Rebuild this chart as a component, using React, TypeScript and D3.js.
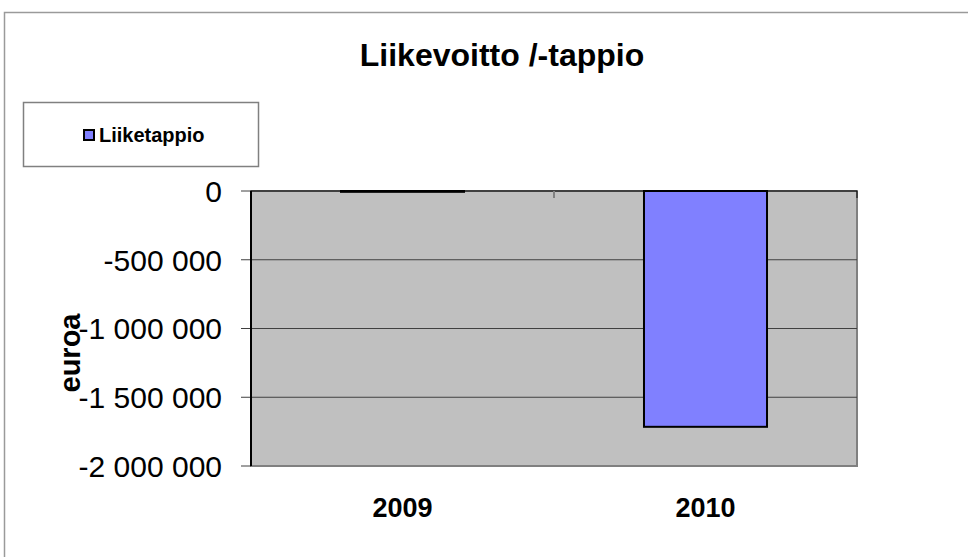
import React from "react";
import * as d3 from "d3";

const categories: string[] = ["2009", "2010"];
const liiketappio: number[] = [-6000, -1715000];
const yTicks: number[] = [0, -500000, -1000000, -1500000, -2000000];
const seriesName = "Liiketappio";
const title = "Liikevoitto /-tappio";
const yAxisTitle = "euroa";

const W = 968;
const H = 557;
const plot = { left: 251, right: 857, top: 191, bottom: 466 };
const FONT = "'Liberation Sans', Arial, Helvetica, sans-serif";

const fmt = (v: number) => {
  const s = d3.format(",")(v);
  return s.replace(/,/g, " ").replace("−", "-");
};

export default function App() {
  const x = d3
    .scaleBand<string>()
    .domain(categories)
    .range([plot.left, plot.right])
    .paddingInner(0.594)
    .paddingOuter(0.297);
  const xGroups = d3.scaleBand<string>().domain(categories).range([plot.left, plot.right]).padding(0);
  const y = d3.scaleLinear().domain([-2000000, 0]).range([plot.bottom, plot.top]);

  return (
    <svg
      width={W}
      height={H}
      style={{ position: "absolute", left: 0, top: 0, background: "#fff" }}
      fontFamily={FONT}
    >
      {/* outer chart border */}
      <rect x={4.5} y={12.5} width={1000} height={700} fill="#fff" stroke="#9a9a9a" strokeWidth={1.5} />

      {/* title */}
      <text x={502} y={66} textAnchor="middle" fontSize={32} fontWeight="bold" fill="#000">
        {title}
      </text>

      {/* legend */}
      <rect x={23.5} y={102.5} width={235} height={64} fill="#fff" stroke="#808080" strokeWidth={1.5} />
      <rect x={84} y={130} width={10} height={10} fill="#8080ff" stroke="#000" strokeWidth={2} />
      <text x={99} y={142} fontSize={20} fontWeight="bold" fill="#000">
        {seriesName}
      </text>

      {/* plot area */}
      <rect
        x={plot.left}
        y={plot.top}
        width={plot.right - plot.left}
        height={plot.bottom - plot.top}
        fill="#c0c0c0"
        stroke="#808080"
        strokeWidth={2}
      />

      {/* gridlines and y ticks */}
      {yTicks.map((t) => (
        <g key={t}>
          {t !== 0 && t !== -2000000 && (
            <line x1={plot.left} x2={plot.right} y1={y(t)} y2={y(t)} stroke="#404040" strokeWidth={1} />
          )}
          <line x1={plot.left - 10} x2={plot.left} y1={y(t)} y2={y(t)} stroke="#404040" strokeWidth={1} />
          <text
            x={222}
            y={y(t)}
            dy="0.36em"
            textAnchor="end"
            fontSize={30}
            fill="#000"
          >
            {fmt(t)}
          </text>
        </g>
      ))}

      {/* bars */}
      {categories.map((c, i) => {
        const v = liiketappio[i];
        const y0 = y(0);
        const y1 = y(v);
        return (
          <rect
            key={c}
            x={x(c)!}
            y={Math.min(y0, y1)}
            width={x.bandwidth()}
            height={Math.abs(y1 - y0)}
            fill="#8080ff"
            stroke="#000"
            strokeWidth={2}
          />
        );
      })}

      {/* category axis line at zero */}
      <line x1={plot.left} x2={plot.right} y1={y(0)} y2={y(0)} stroke="#000" strokeWidth={1} />
      {categories.slice(1).map((c) => (
        <line
          key={c}
          x1={xGroups(c)!}
          x2={xGroups(c)!}
          y1={y(0)}
          y2={y(0) + 7}
          stroke="#808080"
          strokeWidth={2}
        />
      ))}
      <line x1={plot.right} x2={plot.right} y1={y(0)} y2={y(0) + 7} stroke="#000" strokeWidth={1} />

      {/* value axis line */}
      <line x1={plot.left} x2={plot.left} y1={plot.top} y2={plot.bottom} stroke="#000" strokeWidth={2} />

      {/* category labels */}
      {categories.map((c) => (
        <text
          key={c}
          x={xGroups(c)! + xGroups.bandwidth() / 2}
          y={517}
          textAnchor="middle"
          fontSize={27}
          fontWeight="bold"
          fill="#000"
        >
          {c}
        </text>
      ))}

      {/* y axis title */}
      <text
        transform={`translate(80, 353) rotate(-90)`}
        textAnchor="middle"
        fontSize={29}
        fontWeight="bold"
        fill="#000"
      >
        {yAxisTitle}
      </text>
    </svg>
  );
}
